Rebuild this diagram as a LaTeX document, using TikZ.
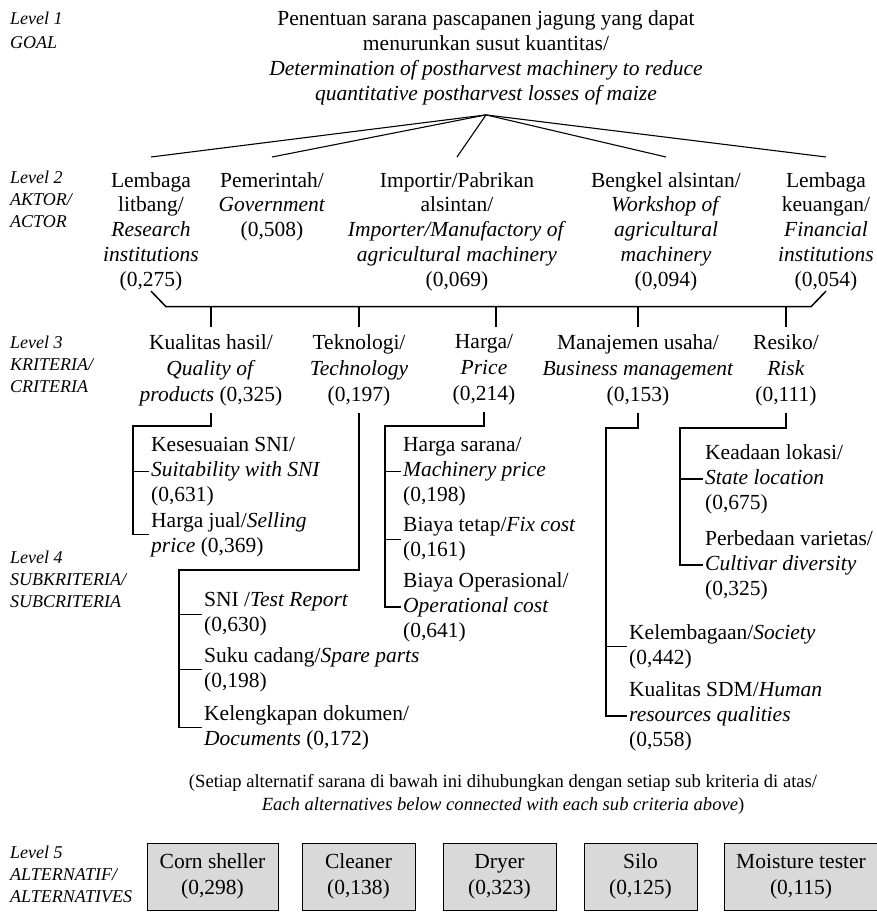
\documentclass[tikz,border=0pt]{standalone}
\usepackage{fontspec}
\setmainfont{Liberation Serif}
\definecolor{altgray}{RGB}{217,217,217}
\tikzset{
  txt/.style={font=\fontsize{21.5}{24.8}\selectfont, inner sep=0pt, align=center, anchor=north},
  crit/.style={font=\fontsize{21.5}{26}\selectfont, inner xsep=0pt, inner ysep=7pt, align=center, anchor=north},
  sub/.style={font=\fontsize{21.5}{25}\selectfont, inner xsep=2pt, inner ysep=0pt, align=left, anchor=north west},
  lvl/.style={font=\fontsize{18}{22}\selectfont\itshape, inner sep=0pt, align=left, anchor=north west},
  link/.style={line width=1.1pt},
  bus/.style={line width=1.5pt},
  alt/.style={draw, line width=0.8pt, fill=altgray, font=\fontsize{21.5}{26}\selectfont, align=center, inner sep=0pt, minimum height=67pt}
}

\begin{document}
\begin{tikzpicture}[x=1pt,y=-1pt]
\useasboundingbox (0,0) rectangle (877,912);

% levels
\node[lvl] (lv1) at (10,12) {Level 1\\[2pt]GOAL};
\node[lvl] (lv2) at (10,171) {Level 2\\AKTOR/\\ACTOR};
\node[lvl] (lv3) at (10,336) {Level 3\\KRITERIA/\\CRITERIA};
\node[lvl] (lv4) at (10,551) {Level 4\\SUBKRITERIA/\\SUBCRITERIA};
\node[lvl] (lv5) at (10,846) {Level 5\\ALTERNATIF/\\ALTERNATIVES};

% goal
\node[txt, font=\fontsize{21.5}{25}\selectfont] (goal) at (486,10) {Penentuan sarana pascapanen jagung yang dapat\\menurunkan susut kuantitas/\\\textit{Determination of postharvest machinery to reduce}\\\textit{quantitative postharvest losses of maize}};
\coordinate (apex) at ([yshift=-10pt]goal.south);

% actors
\node[txt] (lit) at (151,172) {Lembaga\\litbang/\\\textit{Research}\\\textit{institutions}\\(0,275)};
\node[txt] (pem) at (272,172) {Pemerintah/\\\textit{Government}\\(0,508)};
\node[txt] (imp) at (457,172) {Importir/Pabrikan\\alsintan/\\\textit{Importer/Manufactory of}\\\textit{agricultural machinery}\\(0,069)};
\node[txt] (bkl) at (666,172) {Bengkel alsintan/\\\textit{Workshop of}\\\textit{agricultural}\\\textit{machinery}\\(0,094)};
\node[txt] (keu) at (826,172) {Lembaga\\keuangan/\\\textit{Financial}\\\textit{institutions}\\(0,054)};

\foreach \a in {lit,pem,imp,bkl,keu}
  \draw[link] (apex) -- ([yshift=15pt]\a.north);

% criteria
\node[crit] (kua) at (211,327) {Kualitas hasil/\\\textit{Quality of}\\\textit{products} (0,325)};
\node[crit] (tek) at (359,327) {Teknologi/\\\textit{Technology}\\(0,197)};
\node[crit] (hrg) at (484,327) {Harga/\\\textit{Price}\\(0,214)};
\node[crit] (man) at (638,327) {Manajemen usaha/\\\textit{Business management}\\(0,153)};
\node[crit] (res) at (786,327) {Resiko/\\\textit{Risk}\\(0,111)};

\coordinate (busL) at (166,306.7);
\coordinate (busR) at (811,306.7);
\draw[bus] (lit.south) -- (busL) -- (busR) -- (keu.south);
\foreach \c in {kua,tek,man,res}
  \draw[link] (busL -| \c.north) -- (\c.north);
\draw[link] (busL -| 496,0) -- (hrg.north -| 496,0);

% subcriteria
\node[sub] (kes) at (149,437) {Kesesuaian SNI/\\\textit{Suitability with SNI}\\(0,631)};
\node[sub] (jual) at (149,512) {Harga jual/\textit{Selling}\\\textit{price} (0,369)};
\node[sub] (sni) at (202,592) {SNI /\textit{Test Report}\\(0,630)};
\node[sub] (suku) at (202,647) {Suku cadang/\textit{Spare parts}\\(0,198)};
\node[sub] (dok) at (202,705) {Kelengkapan dokumen/\\\textit{Documents} (0,172)};
\node[sub] (hsar) at (401,437) {Harga sarana/\\\textit{Machinery price}\\(0,198)};
\node[sub] (tetap) at (401,517) {Biaya tetap/\textit{Fix cost}\\(0,161)};
\node[sub] (oper) at (401,572) {Biaya Operasional/\\\textit{Operational cost}\\(0,641)};
\node[sub] (lemb) at (627,624) {Kelembagaan/\textit{Society}\\(0,442)};
\node[sub] (sdm) at (627,681) {Kualitas SDM/\textit{Human}\\\textit{resources qualities}\\(0,558)};
\node[sub] (lok) at (703,444) {Keadaan lokasi/\\\textit{State location}\\(0,675)};
\node[sub] (var) at (703,530) {Perbedaan varietas/\\\textit{Cultivar diversity}\\(0,325)};

\coordinate (kuaBr) at (133,426);
\coordinate (tekBr) at (179,570);
\coordinate (hrgBr) at (385,426);
\coordinate (manBr) at (606,428);
\coordinate (resBr) at (680,428);

\draw[link] (kua.south) |- (kuaBr) |- (jual.west);
\draw[link] (kuaBr |- kes.west) -- (kes.west);
\draw[link] (tek.south) |- (tekBr) |- (dok.west);
\draw[link] (tekBr |- sni.west) -- (sni.west);
\draw[link] (tekBr |- suku.west) -- (suku.west);
\draw[link] (hrg.south) |- (hrgBr) |- (oper.west);
\draw[link] (hrgBr |- hsar.west) -- (hsar.west);
\draw[link] (hrgBr |- tetap.west) -- (tetap.west);
\draw[link] (man.south) |- (manBr) |- (sdm.west);
\draw[link] (manBr |- lemb.west) -- (lemb.west);
\draw[link] (res.south) |- (resBr) |- (var.west);
\draw[link] (resBr |- lok.west) -- (lok.west);

% note
\node[txt, font=\fontsize{18.6}{23}\selectfont] (note) at (503,774) {(Setiap alternatif sarana di bawah ini dihubungkan dengan setiap sub kriteria di atas/\\\textit{Each alternatives below connected with each sub criteria above})};

% alternatives
\node[alt, minimum width=131pt] (corn) at (212.5,876.5) {Corn sheller\\(0,298)};
\node[alt, minimum width=113pt] (clean) at (358.5,876.5) {Cleaner\\(0,138)};
\node[alt, minimum width=113pt] (dry) at (499.5,876.5) {Dryer\\(0,323)};
\node[alt, minimum width=113pt] (silo) at (640.5,876.5) {Silo\\(0,125)};
\node[alt, minimum width=154pt] (moist) at (801,876.5) {Moisture tester\\(0,115)};
\end{tikzpicture}
\end{document}
